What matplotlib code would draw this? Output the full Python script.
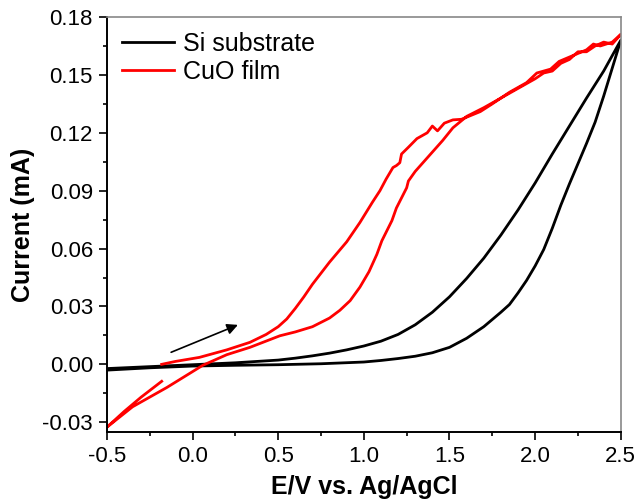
import matplotlib
matplotlib.use('Agg')
from matplotlib import pyplot as plt
from matplotlib.ticker import MultipleLocator, AutoMinorLocator, FormatStrFormatter

plt.rcParams['font.family'] = ['Liberation Sans', 'DejaVu Sans']

# Si substrate: forward sweep then reverse sweep
si_fwd_v = [-0.5, -0.25, 0.0, 0.25, 0.5, 0.75, 1.0, 1.1, 1.2, 1.3, 1.4, 1.5, 1.6, 1.7,
            1.8, 1.85, 1.9, 1.95, 2.0, 2.05, 2.1, 2.15, 2.2, 2.25, 2.3, 2.35, 2.4,
            2.45, 2.5]
si_fwd_i = [-0.003, -0.0018, -0.0009, -0.0005, -0.0002, 0.0003, 0.0012, 0.002, 0.003,
            0.0042, 0.006, 0.0088, 0.0135, 0.0195, 0.027, 0.031, 0.037, 0.0435, 0.051,
            0.0595, 0.0705, 0.0825, 0.0935, 0.104, 0.1145, 0.1255, 0.139, 0.1535, 0.168]
si_rev_v = [2.5, 2.4, 2.3, 2.2, 2.1, 2.0, 1.9, 1.8, 1.7, 1.6, 1.5, 1.4, 1.3, 1.2, 1.1,
            1.0, 0.9, 0.8, 0.7, 0.6, 0.5, 0.25, 0.0, -0.25, -0.5]
si_rev_i = [0.168, 0.152, 0.138, 0.1235, 0.109, 0.094, 0.080, 0.067, 0.055, 0.0445,
            0.035, 0.027, 0.0205, 0.0155, 0.012, 0.0095, 0.0075, 0.0058, 0.0044, 0.0032,
            0.0022, 0.0008, -0.0002, -0.0012, -0.0022]

# CuO film: forward from -0.18 V, reverse to -0.5 V, then forward back to -0.18 V
cuo_fwd_v = [-0.18, -0.1, 0.04, 0.2, 0.335, 0.43, 0.5, 0.55, 0.6, 0.65, 0.70, 0.80,
             0.90, 0.977, 1.05, 1.094, 1.13, 1.17, 1.19, 1.21, 1.22, 1.26, 1.31, 1.37,
             1.40, 1.43, 1.47, 1.52, 1.57, 1.68, 1.75, 1.85, 1.95, 2.01, 2.09, 2.14,
             2.22, 2.30, 2.34, 2.38, 2.45, 2.5]
cuo_fwd_i = [0.0, 0.0015, 0.0036, 0.0075, 0.0114, 0.0155, 0.0195, 0.0235, 0.029, 0.035,
             0.0415, 0.053, 0.0635, 0.0735, 0.084, 0.090, 0.096, 0.102, 0.103, 0.1045,
             0.109, 0.1125, 0.117, 0.120, 0.1235, 0.121, 0.125, 0.1267, 0.127, 0.131,
             0.135, 0.141, 0.146, 0.151, 0.153, 0.157, 0.160, 0.163, 0.166, 0.165,
             0.167, 0.171]
cuo_rev_v = [2.5, 2.45, 2.40, 2.35, 2.30, 2.25, 2.2, 2.15, 2.1, 2.05, 2.0, 1.9, 1.8,
             1.7, 1.6, 1.58, 1.52, 1.46, 1.37, 1.30, 1.26, 1.25, 1.19, 1.164, 1.105,
             1.076, 1.03, 0.977, 0.92, 0.86, 0.8, 0.7, 0.6, 0.51, 0.335, 0.2, 0.06,
             -0.15, -0.35, -0.5]
cuo_rev_i = [0.171, 0.166, 0.167, 0.165, 0.162, 0.162, 0.158, 0.156, 0.152, 0.151,
             0.148, 0.143, 0.138, 0.133, 0.1285, 0.127, 0.1226, 0.116, 0.107, 0.100,
             0.095, 0.0915, 0.081, 0.0745, 0.064, 0.057, 0.048, 0.040, 0.033, 0.028,
             0.024, 0.0195, 0.0168, 0.0148, 0.0088, 0.005, -0.0005, -0.012, -0.022,
             -0.0326]
cuo_end_v = [-0.5, -0.4, -0.3, -0.18]
cuo_end_i = [-0.0326, -0.0245, -0.017, -0.0088]

fig = plt.figure(figsize=(6.4, 5.01), dpi=100)
ax = fig.add_axes([0.167, 0.138, 0.803, 0.828])

ax.plot(si_fwd_v + si_rev_v, si_fwd_i + si_rev_i, color='black', lw=2,
        label='Si substrate')
ax.plot(cuo_fwd_v + cuo_rev_v + cuo_end_v, cuo_fwd_i + cuo_rev_i + cuo_end_i,
        color='red', lw=2, label='CuO film')

ax.annotate('', xy=(0.28, 0.021), xytext=(-0.14, 0.0057),
            arrowprops=dict(arrowstyle='-|>', color='black', lw=1.2, mutation_scale=16))

ax.set_xlim(-0.5, 2.5)
ax.set_ylim(-0.035, 0.18)
ax.xaxis.set_major_locator(MultipleLocator(0.5))
ax.yaxis.set_major_locator(MultipleLocator(0.03))
ax.xaxis.set_minor_locator(AutoMinorLocator(2))
ax.yaxis.set_minor_locator(AutoMinorLocator(2))
ax.xaxis.set_major_formatter(FormatStrFormatter('%.1f'))
ax.yaxis.set_major_formatter(FormatStrFormatter('%.2f'))

ax.tick_params(which='major', direction='out', length=6, width=1.2, labelsize=16, pad=4)
ax.tick_params(which='minor', direction='out', length=3, width=1.2)
ax.tick_params(top=False, right=False, which='both')

for side in ['left', 'bottom']:
    ax.spines[side].set_linewidth(1.4)
    ax.spines[side].set_color('black')
for side in ['top', 'right']:
    ax.spines[side].set_linewidth(1.2)
    ax.spines[side].set_color('#888888')

ax.set_xlabel('E/V vs. Ag/AgCl', fontsize=18, fontweight='bold', labelpad=6)
ax.set_ylabel('Current (mA)', fontsize=18, fontweight='bold', labelpad=5)

ax.legend(loc='upper left', frameon=False, fontsize=18, handlelength=2.1,
          handletextpad=0.35, labelspacing=0.15, borderaxespad=0.2,
          bbox_to_anchor=(0.0, 1.0))

fig.savefig('out.png', dpi=100)
